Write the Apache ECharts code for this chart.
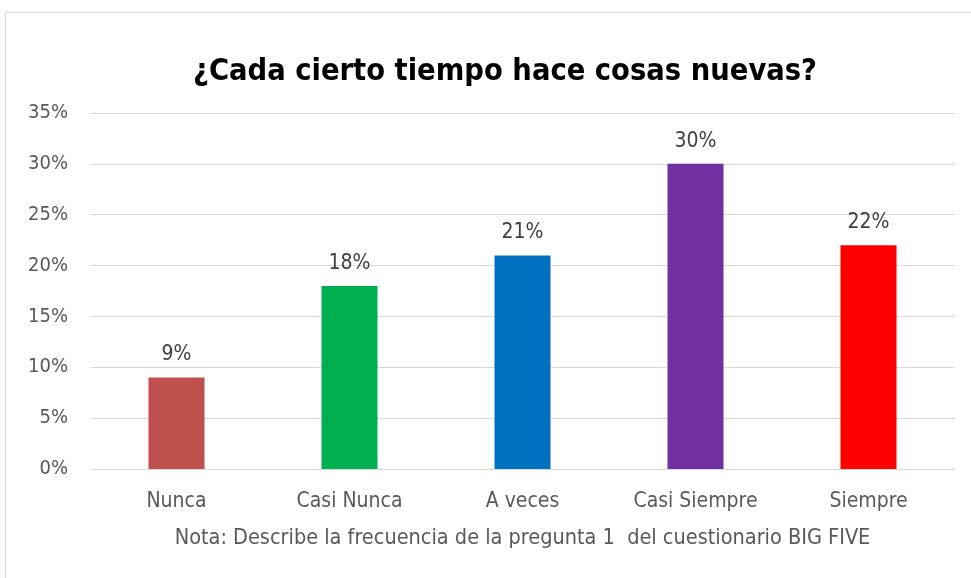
<!DOCTYPE html>
<html>
<head>
<meta charset="utf-8">
<script src="https://cdn.jsdelivr.net/npm/echarts@6/dist/echarts.min.js"></script>
<style>
  html, body { margin: 0; padding: 0; background: #fff; }
  #chart { width: 971px; height: 578px; }
</style>
</head>
<body>
<div id="chart"></div>
<script>
const categories = ['Nunca', 'Casi Nunca', 'A veces', 'Casi Siempre', 'Siempre'];
const values = [9, 18, 21, 30, 22];
const barColors = ['#C0504D', '#00B050', '#0070C0', '#7030A0', '#FF0000'];
const yTicks = [0, 5, 10, 15, 20, 25, 30, 35];

const font = "'Liberation Sans Narrow', 'DejaVu Sans Condensed', sans-serif";

const chart = echarts.init(document.getElementById('chart'));

const option = {
  backgroundColor: '#fff',
  animation: false,
  title: {
    text: '¿Cada cierto tiempo hace cosas nuevas?',
    left: 188,
    top: 52,
    textStyle: {
      fontFamily: font,
      fontSize: 30.5,
      fontWeight: 'bold',
      color: '#000'
    }
  },
  graphic: [{
    type: 'rect',
    shape: { x: 5.5, y: 12.5, width: 980, height: 600 },
    style: { fill: null, stroke: '#d9d9d9', lineWidth: 1 },
    silent: true
  }],
  grid: {
    left: 90,
    right: 16,
    top: 113,
    bottom: 109
  },
  xAxis: {
    type: 'category',
    data: categories,
    axisTick: { show: false },
    axisLine: { lineStyle: { color: '#d9d9d9', width: 1 } },
    axisLabel: {
      margin: 22,
      fontFamily: font,
      fontSize: 21,
      color: '#595959'
    },
    name: 'Nota: Describe la frecuencia de la pregunta 1  del cuestionario BIG FIVE',
    nameLocation: 'middle',
    nameGap: 58,
    nameTextStyle: {
      fontFamily: font,
      fontSize: 21.5,
      color: '#595959'
    }
  },
  yAxis: {
    type: 'value',
    min: yTicks[0],
    max: yTicks[yTicks.length - 1],
    interval: 5,
    axisLine: { show: false },
    axisTick: { show: false },
    axisLabel: {
      margin: 22,
      fontFamily: font,
      fontSize: 20,
      color: '#595959',
      formatter: v => v + '%'
    },
    splitLine: { lineStyle: { color: '#d9d9d9', width: 1 } }
  },
  series: [{
    type: 'bar',
    barWidth: 56,
    data: values.map((v, i) => ({ value: v, itemStyle: { color: barColors[i] } })),
    label: {
      show: true,
      position: 'top',
      distance: 12,
      fontFamily: font,
      fontSize: 21,
      color: '#404040',
      formatter: p => p.value + '%'
    }
  }]
};

chart.setOption(option);
</script>
</body>
</html>
